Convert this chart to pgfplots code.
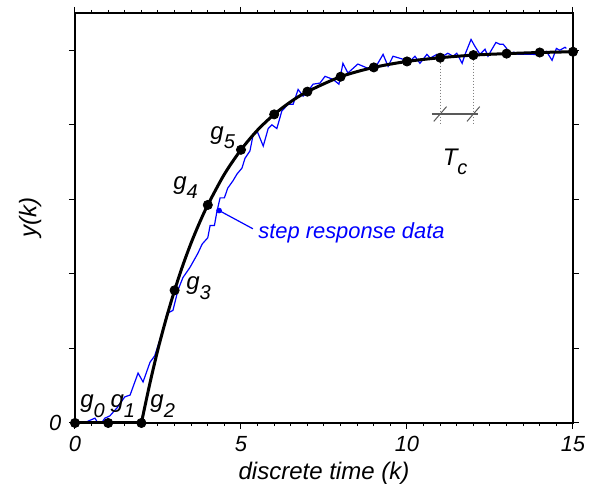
\documentclass[border=0pt,11pt]{standalone}
\usepackage{fontspec}
\setmainfont{Liberation Sans}
\usepackage{pgfplots}
\pgfplotsset{compat=1.18}

\newcommand{\sub}[1]{\raisebox{-0.75ex}{\small #1}}

\begin{document}
\begin{tikzpicture}
\begin{axis}[width=249pt, height=205pt, scale only axis,
  xmin=0, xmax=15, ymin=0, ymax=1.1,
  xtick={0,5,10,15}, minor x tick num=9,
  ytick={0,0.2,0.4,0.6,0.8,1.0}, yticklabels={0,{},{},{},{},{}},
  tick align=outside, major tick length=3pt, minor tick length=1.6pt,
  axis line style={line width=0.6pt}, tick style={line width=0.5pt, black},
  ticklabel style={font=\itshape}, /pgf/number format/assume math mode=true,
  xlabel={discrete time (k)}, ylabel={y(k)}, label style={font=\large\itshape},
  xlabel style={at={(axis description cs:0.5,-0.122)}, anchor=center},
  ylabel style={at={(axis description cs:-0.09,0.5)}, anchor=center},
  clip=false]
\coordinate (bl) at (rel axis cs:-0.1506,-0.1634);
\coordinate (tr) at (rel axis cs:1.0422,1.0317);

% noisy step response
\addplot[blue, line width=0.6pt] coordinates {
(0.27,0.0) (0.6,0.013) (0.69,0.0) (0.8,0.0) (0.9,0.013) (1.05,0.019) (1.26,0.04)
(1.5,0.07) (1.66,0.075) (1.9,0.134) (2.05,0.11) (2.26,0.163) (2.4,0.18) (2.65,0.249)
(2.77,0.294) (2.95,0.302) (3.1,0.356) (3.25,0.39) (3.46,0.417) (3.7,0.455) (3.83,0.48)
(4.0,0.497) (4.07,0.53) (4.2,0.53) (4.27,0.565) (4.37,0.604) (4.5,0.604) (4.6,0.63)
(4.76,0.65) (4.88,0.668) (5.03,0.684) (5.12,0.71) (5.27,0.73) (5.37,0.775) (5.5,0.78)
(5.67,0.743) (5.82,0.79) (5.93,0.80) (6.08,0.79) (6.23,0.837) (6.42,0.855) (6.57,0.855)
(6.72,0.895) (6.87,0.877) (7.02,0.89) (7.17,0.909) (7.38,0.912) (7.53,0.93) (7.77,0.922)
(7.95,0.909) (8.07,0.965) (8.22,0.939) (8.52,0.963) (8.89,0.949) (9.07,0.957) (9.28,0.989)
(9.43,0.957) (9.58,0.984) (9.88,0.976) (10.0,0.963) (10.24,0.984) (10.39,0.965) (10.6,0.989)
(10.7,0.979) (10.9,0.989) (11.08,0.984) (11.23,0.992) (11.39,0.984) (11.5,0.992) (11.66,0.965)
(11.75,0.989) (11.93,1.029) (12.05,1.01) (12.2,0.989) (12.35,1.003) (12.44,0.984) (12.56,1.003)
(12.68,1.021) (12.8,1.016) (12.9,1.016) (13.0,1.005) (13.1,0.989) (13.22,0.995) (13.34,0.989)
(13.6,0.989) (13.8,0.989) (14.0,0.987) (14.2,0.997) (14.37,0.973) (14.5,1.005) (14.6,1.0)
(14.76,1.008) (14.8,1.005)};

% model curve
\addplot[black, line width=1.5pt] coordinates {(0,0) (2,0)};
\addplot[black, line width=1.5pt, smooth] coordinates {
(2,0) (2.25,0.104) (2.5,0.198) (2.75,0.281) (3,0.356) (3.25,0.4235) (3.5,0.4835)
(3.75,0.537) (4,0.585) (4.5,0.6675) (5,0.733) (5.5,0.786) (6,0.828) (6.5,0.862)
(7,0.889) (8,0.929) (9,0.954) (10,0.970) (11,0.980) (12,0.987) (13,0.991) (14,0.994) (15,0.996)};
\addplot[only marks, black, mark=*, mark size=2.3pt] coordinates {
(0,0) (1,0) (2,0) (3,0.356) (4,0.585) (5,0.733) (6,0.828) (7,0.889) (8,0.929)
(9,0.954) (10,0.970) (11,0.980) (12,0.987) (13,0.991) (14,0.994) (15,0.996)};

% labels
\node[font=\large\itshape] at (axis cs:0.53,0.045) {g\sub{0}};
\node[font=\large\itshape] at (axis cs:1.44,0.045) {g\sub{1}};
\node[font=\large\itshape] at (axis cs:2.64,0.045) {g\sub{2}};
\node[font=\large\itshape] at (axis cs:3.72,0.362) {g\sub{3}};
\node[font=\large\itshape] at (axis cs:3.33,0.632) {g\sub{4}};
\node[font=\large\itshape] at (axis cs:4.45,0.766) {g\sub{5}};

% step response label
\addplot[only marks, blue, mark=*, mark size=1.2pt] coordinates {(4.34,0.57)};
\draw[blue, line width=0.6pt] (axis cs:4.34,0.57) -- (axis cs:5.36,0.521);
\node[font=\itshape, text=blue, anchor=west, inner sep=1pt] at (axis cs:5.45,0.511) {step response data};

% Tc annotation
\draw[gray, densely dotted, line width=0.5pt] (axis cs:11,0.975) -- (axis cs:11,0.802);
\draw[gray, densely dotted, line width=0.5pt] (axis cs:12,0.983) -- (axis cs:12,0.802);
\draw[gray!70!black, line width=0.6pt] (axis cs:10.75,0.829) -- (axis cs:12.14,0.829);
\draw[gray!70!black, line width=0.5pt] ([shift={(-3.2pt,-3.7pt)}]axis cs:11,0.829) -- ([shift={(3.2pt,3.7pt)}]axis cs:11,0.829);
\draw[gray!70!black, line width=0.5pt] ([shift={(-3.2pt,-3.7pt)}]axis cs:12,0.829) -- ([shift={(3.2pt,3.7pt)}]axis cs:12,0.829);
\node[font=\large\itshape] at (axis cs:11.45,0.70) {T\sub{c}};
\end{axis}
\pgfresetboundingbox
\path[use as bounding box] (bl) rectangle (tr);
\end{tikzpicture}
\end{document}
